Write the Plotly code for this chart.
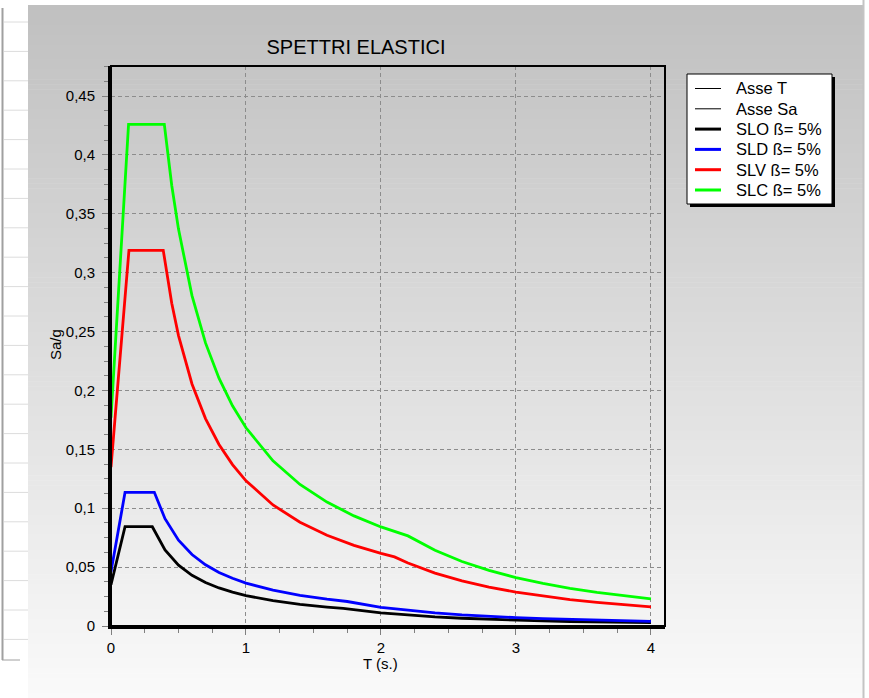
import plotly.graph_objects as go

# ---- data ----
t_slo = [0, 0.104, 0.306, 0.4, 0.5, 0.6, 0.7, 0.8, 0.9, 1.0, 1.2, 1.4, 1.6, 1.72, 2.0, 2.2, 2.4, 2.6, 2.8, 3.0, 3.2, 3.4, 3.6, 3.8, 4.0]
sa_slo = [0.035, 0.0843, 0.0843, 0.0645, 0.0516, 0.0430, 0.0369, 0.0323, 0.0287, 0.0258, 0.0215, 0.0184, 0.0161, 0.0150, 0.0111, 0.0092, 0.0077, 0.0066, 0.0057, 0.0049, 0.0043, 0.0038, 0.0034, 0.0031, 0.0028]

t_sld = [0, 0.104, 0.321, 0.4, 0.5, 0.6, 0.7, 0.8, 0.9, 1.0, 1.2, 1.4, 1.6, 1.75, 2.0, 2.2, 2.4, 2.6, 2.8, 3.0, 3.2, 3.4, 3.6, 3.8, 4.0]
sa_sld = [0.046, 0.1135, 0.1135, 0.0911, 0.0729, 0.0607, 0.0520, 0.0455, 0.0405, 0.0364, 0.0304, 0.0260, 0.0228, 0.0208, 0.0159, 0.0132, 0.0111, 0.0094, 0.0081, 0.0071, 0.0062, 0.0055, 0.0049, 0.0044, 0.0040]

t_slv = [0, 0.133, 0.387, 0.45, 0.5, 0.6, 0.7, 0.8, 0.9, 1.0, 1.2, 1.4, 1.6, 1.8, 2.0, 2.1, 2.2, 2.4, 2.6, 2.8, 3.0, 3.2, 3.4, 3.6, 3.8, 4.0]
sa_slv = [0.135, 0.319, 0.319, 0.274, 0.2466, 0.2055, 0.1761, 0.1541, 0.1370, 0.1233, 0.1028, 0.0881, 0.0771, 0.0685, 0.0617, 0.0587, 0.0535, 0.0449, 0.0383, 0.0330, 0.0288, 0.0253, 0.0224, 0.0200, 0.0179, 0.0162]

t_slc = [0, 0.13, 0.395, 0.45, 0.5, 0.6, 0.7, 0.8, 0.9, 1.0, 1.2, 1.4, 1.6, 1.8, 2.0, 2.2, 2.4, 2.6, 2.8, 3.0, 3.2, 3.4, 3.6, 3.8, 4.0]
sa_slc = [0.177, 0.426, 0.426, 0.374, 0.337, 0.2805, 0.2404, 0.2104, 0.1870, 0.1683, 0.1402, 0.1202, 0.1052, 0.0935, 0.0841, 0.0765, 0.0643, 0.0548, 0.0472, 0.0411, 0.0362, 0.0320, 0.0286, 0.0256, 0.0231]

asse_t_x = [0, 4]
asse_t_y = [0, 0]
asse_sa_x = [0, 0]
asse_sa_y = [0, 0.45]

legend_names = ["Asse T", "Asse Sa", "SLO ß= 5%", "SLD ß= 5%", "SLV ß= 5%", "SLC ß= 5%"]
legend_colors = ["#000000", "#000000", "#000000", "#0000ff", "#ff0000", "#00ff00"]
legend_widths = [1, 1, 3, 3, 3, 3]

FONT = "Liberation Sans, Arial, sans-serif"

# ---- figure geometry (pixels) ----
W, H = 869, 698
L, R, T, B = 111, 665, 66, 626
PW, PH = R - L, B - T

def px(x):
    return (x - L) / PW

def py(y):
    return (B - y) / PH

fig = go.Figure()
fig.add_trace(go.Scatter(x=asse_t_x, y=asse_t_y, mode="lines", name=legend_names[0],
                         line=dict(color=legend_colors[0], width=1)))
fig.add_trace(go.Scatter(x=asse_sa_x, y=asse_sa_y, mode="lines", name=legend_names[1],
                         line=dict(color=legend_colors[1], width=1)))
for tx, sy, nm, col in zip([t_slo, t_sld, t_slv, t_slc], [sa_slo, sa_sld, sa_slv, sa_slc],
                           legend_names[2:], legend_colors[2:]):
    fig.add_trace(go.Scatter(x=tx, y=sy, mode="lines", name=nm,
                             line=dict(color=col, width=2.8)))

shapes = []
# gradient background (grey at top to near white at bottom)
y0, y1 = 5, 698
nb = 140
for i in range(nb):
    ya = y0 + (y1 - y0) * i / nb
    yb = y0 + (y1 - y0) * (i + 1) / nb + 0.6
    c = int(round(192 + 58 * (i + 0.5) / nb))
    shapes.append(dict(type="rect", xref="paper", yref="paper", layer="below",
                       x0=px(28), x1=px(863), y0=py(ya), y1=py(yb),
                       line=dict(width=0), fillcolor=f"rgb({c},{c},{c})"))
# right border line of the panel
shapes.append(dict(type="line", xref="paper", yref="paper", layer="below",
                   x0=px(863.5), x1=px(863.5), y0=py(0), y1=py(698),
                   line=dict(color="#c4c4c4", width=2)))
# left side table panel
shapes.append(dict(type="line", xref="paper", yref="paper", layer="below",
                   x0=px(2.5), x1=px(2.5), y0=py(8), y1=py(660),
                   line=dict(color="#a0a0a0", width=2)))
shapes.append(dict(type="line", xref="paper", yref="paper", layer="below",
                   x0=px(2), x1=px(20), y0=py(660), y1=py(660),
                   line=dict(color="#a0a0a0", width=1)))
for k in range(22):
    yy = 22 + 29.4 * k
    shapes.append(dict(type="line", xref="paper", yref="paper", layer="below",
                       x0=px(4), x1=px(28), y0=py(yy), y1=py(yy),
                       line=dict(color="#dcdcdc", width=1)))
# plot frame (top / right thinner)
shapes.append(dict(type="rect", xref="paper", yref="paper", layer="above",
                   x0=0, x1=1, y0=0, y1=1, line=dict(color="black", width=2)))

# legend box (drawn as shapes + text)
LX0, LX1, LY0, LY1 = 687, 832, 74, 204
shapes.append(dict(type="rect", xref="paper", yref="paper", layer="above",
                   x0=px(LX0 + 3), x1=px(LX1 + 3), y0=py(LY0 + 3), y1=py(LY1 + 3),
                   line=dict(width=0), fillcolor="#000000"))
shapes.append(dict(type="rect", xref="paper", yref="paper", layer="above",
                   x0=px(LX0), x1=px(LX1), y0=py(LY0), y1=py(LY1),
                   line=dict(color="black", width=1), fillcolor="white"))

annotations = [
    dict(text="Sa/g", xref="paper", yref="paper", x=px(55), y=py(345),
         showarrow=False, textangle=-90, font=dict(family=FONT, size=15, color="black"),
         xanchor="center", yanchor="middle"),
    dict(text="T (s.)", xref="paper", yref="paper", x=px(380), y=py(663),
         showarrow=False, font=dict(family=FONT, size=15, color="black"),
         xanchor="center", yanchor="middle"),
]
for k, (nm, col, lw) in enumerate(zip(legend_names, legend_colors, legend_widths)):
    yy = 88.5 + 20.3 * k
    shapes.append(dict(type="line", xref="paper", yref="paper", layer="above",
                       x0=px(695), x1=px(721), y0=py(yy), y1=py(yy),
                       line=dict(color=col, width=lw)))
    annotations.append(dict(text=nm, xref="paper", yref="paper", x=px(734), y=py(yy),
                            showarrow=False, xanchor="left", yanchor="middle",
                            font=dict(family=FONT, size=16.5, color="black")))

fig.update_layout(
    width=W, height=H,
    margin=dict(l=L, r=W - R, t=T, b=H - B, pad=0),
    paper_bgcolor="white",
    plot_bgcolor="rgba(0,0,0,0)",
    separators=",.",
    font=dict(family=FONT, size=15, color="black"),
    title=dict(text="SPETTRI ELASTICI", x=px(356), xref="paper", xanchor="center",
               y=1 - 47 / H, yref="container", yanchor="middle",
               font=dict(family=FONT, size=20, color="black")),
    showlegend=False,
    shapes=shapes,
    annotations=annotations,
)
fig.update_xaxes(range=[0, 4.104], dtick=1, tick0=0, showline=True, linecolor="black",
                 linewidth=3, zeroline=False, showgrid=True, gridcolor="#8c8c8c",
                 griddash="4px,3px", gridwidth=1, ticks="outside", ticklen=6,
                 tickcolor="#808080", tickfont=dict(family=FONT, size=15, color="black"),
                 minor=dict(dtick=0.25, ticks="outside", ticklen=4, tickcolor="#808080",
                            showgrid=False))
fig.update_yaxes(range=[0, 0.4755], dtick=0.05, tick0=0, showline=True, linecolor="black",
                 linewidth=3, zeroline=False, showgrid=True, gridcolor="#8c8c8c",
                 griddash="4px,3px", gridwidth=1, ticks="outside", ticklen=6,
                 ticklabelstandoff=4,
                 tickcolor="#808080", tickfont=dict(family=FONT, size=15, color="black"),
                 minor=dict(dtick=0.0125, ticks="outside", ticklen=4, tickcolor="#808080",
                            showgrid=False))

fig.write_html("out.html", config={"displayModeBar": False},
               post_script="document.body.style.margin='0';document.body.style.padding='0';")
